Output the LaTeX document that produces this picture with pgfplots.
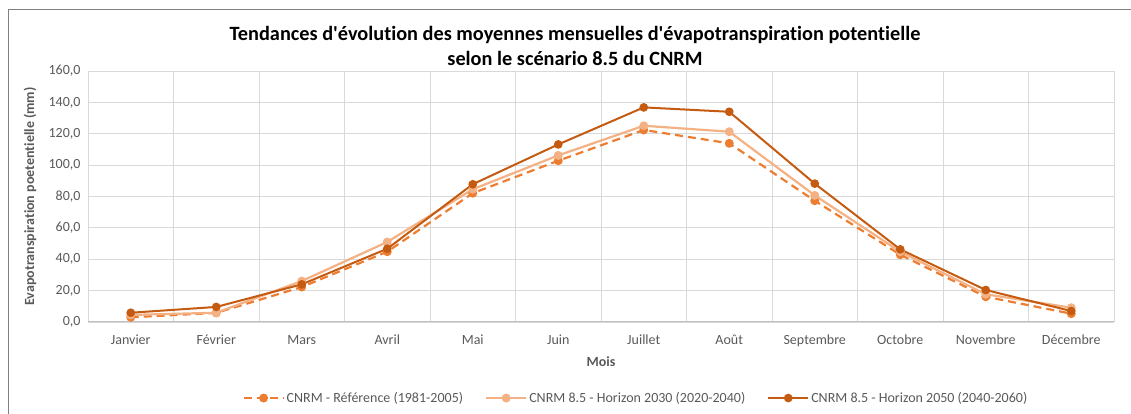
\documentclass[border=0pt]{standalone}
\usepackage{pgfplots}
\pgfplotsset{compat=1.18}
\usepackage{fontspec}
\setmainfont{Carlito}[Ligatures={TeXOff,CommonOff}]
\definecolor{cref}{HTML}{ED7D31}
\definecolor{c30}{HTML}{F4B183}
\definecolor{c50}{HTML}{C55A11}
\definecolor{gridc}{HTML}{D9D9D9}
\definecolor{axc}{HTML}{BFBFBF}
\definecolor{tickc}{HTML}{595959}
\begin{document}
\begin{tikzpicture}
\begin{axis}[
  scale only axis, width=1026pt, height=251pt,
  at={(0,0)}, anchor=south west,
  xmin=0, xmax=12, ymin=0, ymax=160,
  clip=false,
  axis line style={draw=none},
  xtick={0.5,1.5,...,11.5},
  xticklabels={Janvier,Février,Mars,Avril,Mai,Juin,Juillet,Août,Septembre,Octobre,Novembre,Décembre},
  minor xtick={0,1,...,12},
  xminorgrids, ymajorgrids,
  minor grid style={gridc, line width=0.9pt},
  major grid style={gridc, line width=0.9pt},
  ytick={0,20,...,160},
  tick style={draw=none},
  major tick length=0pt, minor tick length=0pt,
  /pgf/number format/fixed, /pgf/number format/fixed zerofill, /pgf/number format/precision=1, /pgf/number format/use comma, /pgf/number format/assume math mode=true,
  ticklabel style={font=\fontsize{14}{16}\selectfont, text=tickc},
  xticklabel style={anchor=base, yshift=-23pt},
  yticklabel style={xshift=-4pt},
  xlabel={\textbf{Mois}},
  xlabel style={font=\fontsize{14}{16}\selectfont, text=tickc, at={(axis description cs:0.5,0)}, anchor=center, yshift=-40pt},
  ylabel={\textbf{Evapotranspiration poetentielle (mm)}},
  ylabel style={font=\fontsize{14}{16}\selectfont, text=tickc, at={(axis description cs:-0.0565,0.5)}, anchor=center},
  legend columns=3,
  legend style={draw=none, fill=none, at={(axis description cs:0.534,-0.303)}, anchor=center,
    font=\fontsize{14}{16}\selectfont, text=tickc,
    /tikz/every even column/.append style={column sep=20pt},
    legend cell align=left},
  legend image code/.code={\draw[mark repeat=2,mark phase=2] plot coordinates {(0pt,0pt) (20pt,0pt) (40pt,0pt)};},
  every axis plot/.append style={line width=2.2pt, mark=*, mark size=3.3pt},
]
\draw[axc, line width=1pt] (axis cs:0,0) -- (axis cs:12,0);
\addplot[cref, dash pattern=on 8pt off 5pt, mark options={solid, fill=cref, draw=cref}] coordinates {
(0.5,3.0) (1.5,5.8) (2.5,22.3) (3.5,44.8) (4.5,82.1) (5.5,102.8) (6.5,122.4) (7.5,113.9) (8.5,77.3) (9.5,42.9) (10.5,16.1) (11.5,5.3)};
\addlegendentry{CNRM - Référence (1981-2005)}
\addplot[c30, mark options={fill=c30, draw=c30}] coordinates {
(0.5,4.5) (1.5,5.9) (2.5,26.1) (3.5,51.0) (4.5,84.6) (5.5,106.2) (6.5,125.1) (7.5,121.3) (8.5,80.7) (9.5,44.8) (10.5,17.7) (11.5,9.1)};
\addlegendentry{CNRM 8.5 - Horizon 2030 (2020-2040)}
\addplot[c50, line width=2pt, mark options={fill=c50, draw=c50}] coordinates {
(0.5,5.9) (1.5,9.6) (2.5,24.0) (3.5,46.7) (4.5,87.8) (5.5,113.2) (6.5,136.8) (7.5,134.0) (8.5,88.2) (9.5,46.3) (10.5,20.4) (11.5,7.0)};
\addlegendentry{CNRM 8.5 - Horizon 2050 (2040-2060)}
\end{axis}
\node[font=\bfseries\fontsize{20.3}{25}\selectfont, align=center] at (487pt,276.5pt) {Tendances d'évolution des moyennes mensuelles d'évapotranspiration potentielle\\selon le scénario 8.5 du CNRM};
\draw[gray, line width=1.5pt] (-79.5pt,-92pt) -- (-79.5pt,312.5pt) -- (1043pt,312.5pt);
\pgfresetboundingbox
\useasboundingbox (-88pt,-92pt) rectangle (1043pt,322pt);
\end{tikzpicture}
\end{document}
